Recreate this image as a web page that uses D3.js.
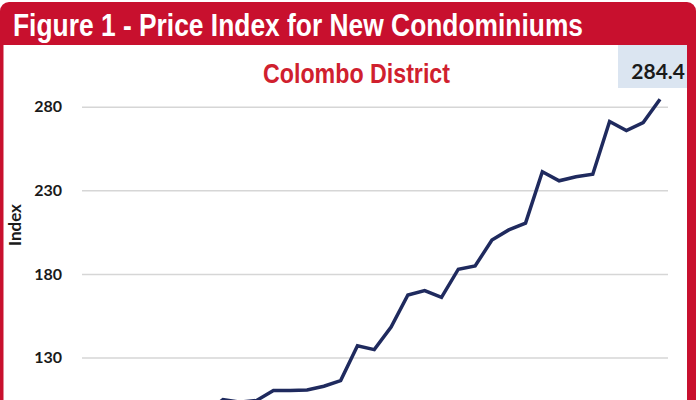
<!DOCTYPE html>
<html>
<head>
<meta charset="utf-8">
<script src="https://cdn.jsdelivr.net/npm/d3@7"></script>
<style>
  body { margin: 0; background: #fff; }
  svg { display: block; }
</style>
</head>
<body>
<svg id="chart"></svg>
<script>
// Price index values, one per period (first point is below the visible area)
const indexValues = [97, 104.8, 103.3, 104.3, 110.3, 110.2, 110.6, 112.8, 116.2,
  137, 134.7, 148.2, 167.4, 170, 166, 182.8, 184.7, 200.3, 206.3, 210.4,
  241.1, 235.7, 238.1, 239.6, 271.1, 265.7, 270.5, 284.4];
const yTicks = [130, 180, 230, 280];

const width = 700, height = 400;
const red = "#c8102e";

const svg = d3.select("#chart")
    .attr("width", width)
    .attr("height", height);

// Frame
svg.append("rect")
    .attr("x", 0).attr("y", 2)
    .attr("width", 696).attr("height", 460)
    .attr("rx", 9)
    .attr("fill", red);

svg.append("rect")
    .attr("x", 3.5).attr("y", 45)
    .attr("width", 683.5).attr("height", 420)
    .attr("fill", "#fff");

svg.append("text")
    .attr("x", 13)
    .attr("y", 36)
    .attr("fill", "#fff")
    .attr("font-family", "Liberation Sans Narrow, Arial Narrow, sans-serif")
    .attr("font-weight", "bold")
    .attr("font-size", "31px")
    .attr("textLength", 570)
    .attr("lengthAdjust", "spacingAndGlyphs")
    .text("Figure 1 - Price Index for New Condominiums");

// Subtitle
svg.append("text")
    .attr("x", 263)
    .attr("y", 83)
    .attr("fill", "#d0202e")
    .attr("font-family", "Liberation Sans Narrow, Arial Narrow, sans-serif")
    .attr("font-weight", "bold")
    .attr("font-size", "27px")
    .attr("textLength", 187)
    .attr("lengthAdjust", "spacingAndGlyphs")
    .text("Colombo District");

// Scales
const plotLeft = 82, plotRight = 668;
const x = d3.scaleLinear()
    .domain([0, indexValues.length - 1])
    .range([206.2, 660]);

const y = d3.scaleLinear()
    .domain([130, 280])
    .range([357.5, 106.7]);

// Y axis with gridlines
const yAxis = svg.append("g")
    .attr("transform", `translate(${plotLeft},0)`)
    .call(d3.axisLeft(y)
        .tickValues(yTicks)
        .tickSize(-(plotRight - plotLeft))
        .tickPadding(20)
        .tickFormat(d3.format("d")));

yAxis.select(".domain").remove();
yAxis.selectAll(".tick line")
    .attr("stroke", "#d6d6d6")
    .attr("stroke-width", 1.5);
yAxis.selectAll(".tick text")
    .attr("fill", "#1a1a1a")
    .attr("font-family", "Lato, sans-serif")
    .attr("font-weight", "bold")
    .attr("font-size", "16px");

// Y axis label
svg.append("text")
    .attr("transform", "rotate(-90)")
    .attr("x", -225)
    .attr("y", 21)
    .attr("text-anchor", "middle")
    .attr("fill", "#1a1a1a")
    .attr("font-family", "Lato, sans-serif")
    .attr("font-weight", "bold")
    .attr("font-size", "17px")
    .text("Index");

// Line
const line = d3.line()
    .x((d, i) => x(i))
    .y(d => y(d));

svg.append("path")
    .datum(indexValues)
    .attr("fill", "none")
    .attr("stroke", "#1f2a5e")
    .attr("stroke-width", 3.5)
    .attr("stroke-linejoin", "miter")
    .attr("d", line);

// Last value label
const last = indexValues[indexValues.length - 1];
svg.append("rect")
    .attr("x", 618).attr("y", 45)
    .attr("width", 69).attr("height", 43)
    .attr("fill", "#dbe5f1");

svg.append("text")
    .attr("x", 685)
    .attr("y", 79)
    .attr("text-anchor", "end")
    .attr("fill", "#1a1a1a")
    .attr("font-family", "Lato, sans-serif")
    .attr("font-weight", "bold")
    .attr("font-size", "21px")
    .text(d3.format(".1f")(last));
</script>
</body>
</html>
